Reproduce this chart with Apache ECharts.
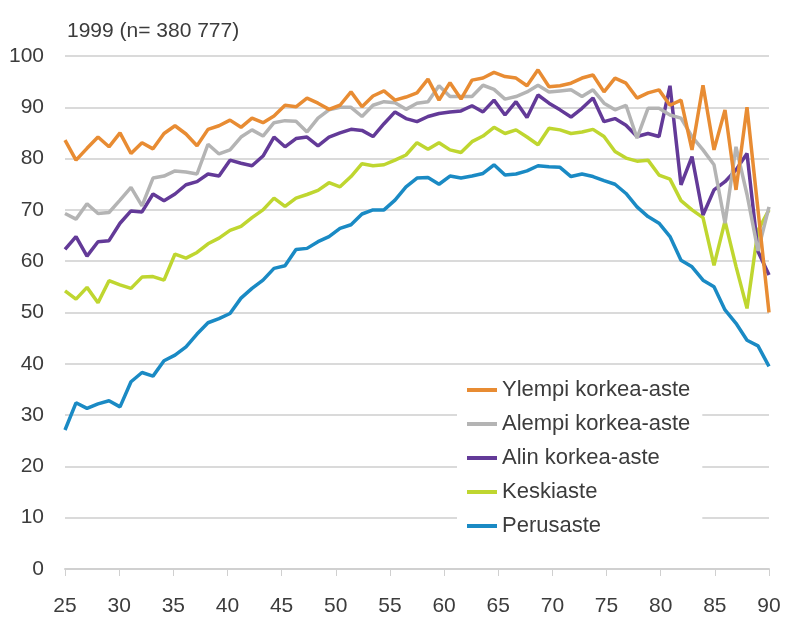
<!DOCTYPE html>
<html>
<head>
<meta charset="utf-8">
<title>1999</title>
<script src="https://cdn.jsdelivr.net/npm/echarts@6.0.0/dist/echarts.min.js"></script>
<style>
  html, body { margin: 0; padding: 0; background: #fff; }
  #chart { width: 792px; height: 625px; }
</style>
</head>
<body>
<div id="chart"></div>
<script>
// ages 25..89, one point per year
var ages = [];
for (var a = 25; a <= 89; a++) ages.push(String(a));

var xTicks = [25, 30, 35, 40, 45, 50, 55, 60, 65, 70, 75, 80, 85, 90];
var names = ['Ylempi korkea-aste', 'Alempi korkea-aste', 'Alin korkea-aste', 'Keskiaste', 'Perusaste'];
var colors = ['#e88c33', '#b4b4b4', '#633a98', '#bfd630', '#1a8ac4'];

var ylempi = [83.6, 79.7, 82, 84.2, 82.3, 85, 81, 83.1, 81.9, 84.9,
  86.4, 84.8, 82.5, 85.7, 86.4, 87.5, 86.1, 87.9, 87, 88.3,
  90.4, 90.1, 91.8, 90.8, 89.6, 90.4, 93, 90.1, 92.2, 93.2,
  91.4, 92, 92.8, 95.5, 91.4, 94.8, 91.6, 95.3, 95.7, 96.8,
  96, 95.7, 94.2, 97.3, 94, 94.2, 94.7, 95.7, 96.3, 93,
  95.7, 94.7, 91.8, 92.8, 93.4, 90.4, 91.4, 81.7, 94.3, 81.7,
  89.5, 73.9, 90, 70, 50];
var alempi = [69.3, 68.2, 71.2, 69.3, 69.5, 71.9, 74.4, 70.8, 76.2, 76.6,
  77.6, 77.4, 77, 82.8, 80.9, 81.7, 84.2, 85.6, 84.4, 87,
  87.4, 87.3, 85.2, 87.9, 89.5, 90, 90, 88.2, 90.4, 91.1,
  90.9, 89.6, 90.8, 91.1, 94.2, 92.1, 92.1, 92.1, 94.3, 93.5,
  91.6, 92.1, 93, 94.3, 93, 93.2, 93.4, 92.1, 93.4, 90.8,
  89.5, 90.4, 84, 89.8, 89.8, 88.5, 87.9, 84.3, 81.7, 78.8,
  67.4, 82.3, 73, 62, 70.6];
var alin = [62.3, 64.8, 61, 63.8, 64, 67.4, 69.8, 69.6, 73.1, 71.8,
  73.1, 74.9, 75.5, 77, 76.6, 79.7, 79.1, 78.6, 80.5, 84.2,
  82.3, 83.9, 84.2, 82.5, 84.2, 85, 85.7, 85.5, 84.3, 86.8,
  89.1, 87.8, 87.2, 88.2, 88.8, 89.1, 89.3, 90.3, 89.1, 91.4,
  88.5, 91.1, 88, 92.4, 90.8, 89.5, 88.1, 89.8, 91.8, 87.2,
  87.8, 86.5, 84.3, 84.9, 84.3, 94.2, 74.9, 80.4, 69, 73.9,
  75.5, 77.8, 81, 61.9, 57.3];
var keski = [54.2, 52.6, 54.9, 51.9, 56.2, 55.4, 54.7, 56.9, 57, 56.3,
  61.4, 60.6, 61.7, 63.4, 64.5, 66, 66.8, 68.5, 70, 72.3,
  70.7, 72.3, 73, 73.8, 75.3, 74.5, 76.5, 79, 78.6, 78.8,
  79.7, 80.7, 83.1, 81.8, 83.1, 81.7, 81.2, 83.3, 84.4, 86.1,
  84.9, 85.6, 84.2, 82.7, 85.9, 85.6, 84.9, 85.2, 85.7, 84.3,
  81.4, 80.1, 79.5, 79.7, 76.8, 76, 71.8, 70, 68.5, 59.2,
  67.8, 59, 50.8, 66, 70];
var perus = [27.1, 32.4, 31.3, 32.2, 32.8, 31.6, 36.5, 38.3, 37.6, 40.6,
  41.7, 43.3, 45.8, 48, 48.8, 49.8, 52.8, 54.7, 56.3, 58.6,
  59.1, 62.3, 62.5, 63.8, 64.8, 66.4, 67.1, 69.2, 70, 70,
  71.9, 74.5, 76.2, 76.3, 75, 76.6, 76.2, 76.6, 77.1, 78.8,
  76.8, 77, 77.6, 78.6, 78.4, 78.3, 76.5, 77, 76.5, 75.7,
  75, 73.2, 70.6, 68.7, 67.4, 64.8, 60.2, 58.9, 56.3, 55,
  50.5, 47.9, 44.6, 43.5, 39.5];

var values = [ylempi, alempi, alin, keski, perus];
var txt = '#3c3c3c', font = 'Liberation Sans, Arial, sans-serif';

// last series drawn on top, so build them bottom-up
var series = [];
for (var i = values.length - 1; i >= 0; i--) {
  series.push({
    name: names[i],
    type: 'line',
    xAxisIndex: 0,
    data: values[i],
    showSymbol: false,
    symbol: 'none',
    lineStyle: { width: 3.5, color: colors[i] },
    itemStyle: { color: colors[i] }
  });
}

var chart = echarts.init(document.getElementById('chart'));
chart.setOption({
  animation: false,
  textStyle: { fontFamily: font },
  title: {
    text: '1999 (n= 380 777)',
    left: 62, top: 16,
    textStyle: { fontSize: 21, fontWeight: 'normal', color: txt, fontFamily: font }
  },
  grid: { left: 65, right: 23, top: 56, bottom: 56, outerBoundsMode: 'none' },
  legend: {
    data: names,
    orient: 'vertical',
    left: 457, top: 372,
    padding: [6, 12, 6, 10],
    backgroundColor: '#fff',
    icon: 'rect',
    itemWidth: 30, itemHeight: 4,
    itemGap: 10,
    textStyle: { fontSize: 22, color: txt, lineHeight: 24, fontFamily: font }
  },
  xAxis: [
    {
      type: 'category', data: ages, boundaryGap: false, show: false
    },
    {
      type: 'value', position: 'bottom',
      min: xTicks[0], max: xTicks[xTicks.length - 1], interval: 5,
      axisLine: { show: true, lineStyle: { color: '#d0d0d0', width: 2 } },
      axisTick: { show: true, length: 7, lineStyle: { color: '#d0d0d0', width: 1 } },
      axisLabel: { fontSize: 21, color: txt, margin: 27, fontFamily: font },
      splitLine: { show: false }
    }
  ],
  yAxis: {
    type: 'value', min: 0, max: 100, interval: 10,
    axisLine: { show: false },
    axisTick: { show: false },
    axisLabel: { fontSize: 21, color: txt, margin: 21, fontFamily: font },
    splitLine: { lineStyle: { color: '#dadada', width: 2 } }
  },
  series: series
});
</script>
</body>
</html>
